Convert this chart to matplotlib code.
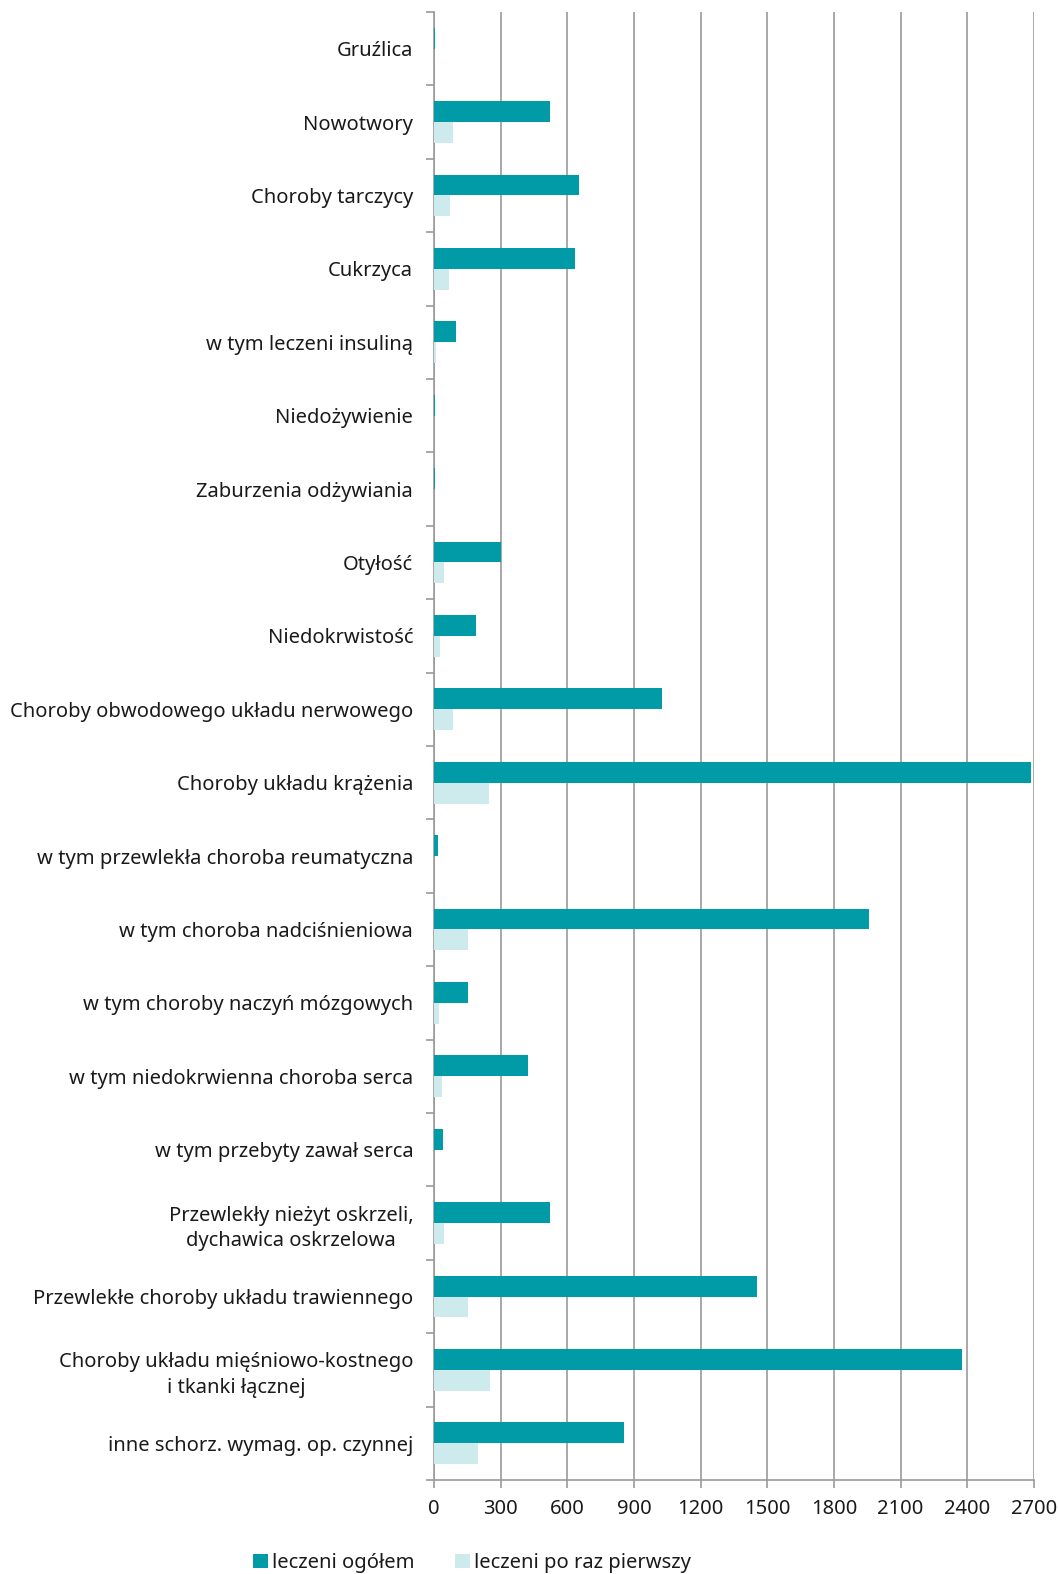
import matplotlib
matplotlib.use("Agg")
import matplotlib.pyplot as plt
import numpy as np

# dane
kategorie = [
    "Gruźlica",
    "Nowotwory",
    "Choroby tarczycy",
    "Cukrzyca",
    "w tym leczeni insuliną",
    "Niedożywienie",
    "Zaburzenia odżywiania",
    "Otyłość",
    "Niedokrwistość",
    "Choroby obwodowego układu nerwowego",
    "Choroby układu krążenia",
    "w tym przewlekła choroba reumatyczna",
    "w tym choroba nadciśnieniowa",
    "w tym choroby naczyń mózgowych",
    "w tym niedokrwienna choroba serca",
    "w tym przebyty zawał serca",
    "Przewlekły nieżyt oskrzeli,\ndychawica oskrzelowa",
    "Przewlekłe choroby układu trawiennego",
    "Choroby układu mięśniowo-kostnego\ni tkanki łącznej",
    "inne schorz. wymag. op. czynnej",
]
leczeni_ogolem = [5, 522, 652, 636, 100, 3, 3, 303, 190, 1028,
                  2688, 19, 1956, 155, 423, 40, 521, 1455, 2376, 853]
leczeni_pierwszy = [0, 86, 72, 69, 9, 0, 0, 45, 28, 85,
                    249, 0, 153, 22, 36, 0, 45, 154, 252, 199]
ticki_x = [0, 300, 600, 900, 1200, 1500, 1800, 2100, 2400, 2700]

kolor_ciemny = "#009ba6"
kolor_jasny = "#cdebec"
szary = "#9a9a9a"

plt.rcParams['font.family'] = ['Noto Sans', 'DejaVu Sans']

fig = plt.figure(figsize=(10.58, 15.74), dpi=100)
ax = fig.add_axes([434 / 1058, 1 - 1480 / 1574, 600 / 1058, 1468 / 1574])

y = np.arange(len(kategorie))
h = 0.286
ax.barh(y - h / 2, leczeni_ogolem, height=h, color=kolor_ciemny, label="leczeni ogółem", zorder=3)
ax.barh(y + h / 2, leczeni_pierwszy, height=h, color=kolor_jasny, label="leczeni po raz pierwszy", zorder=3)

ax.set_ylim(len(kategorie) - 0.5, -0.5)
ax.set_xlim(0, 2700)
ax.set_xticks(ticki_x)
ax.set_yticks(np.arange(len(kategorie) + 1) - 0.5, minor=False)
ax.set_yticklabels([])
ax.set_yticks(y, minor=True)
ax.set_yticklabels(kategorie, minor=True, fontsize=14.5, color="#1a1a1a",
                   multialignment="center", linespacing=1.35)
ax.tick_params(axis="y", which="minor", length=0, pad=15)
ax.tick_params(axis="y", which="major", length=6, color=szary, width=1.2)
ax.tick_params(axis="x", length=6, color=szary, width=1.2, labelsize=14.5, labelcolor="#1a1a1a", pad=8)

ax.grid(axis="x", color=szary, linewidth=1.2, zorder=0)
for s in ["top", "right"]:
    ax.spines[s].set_visible(False)
for s in ["left", "bottom"]:
    ax.spines[s].set_color(szary)
    ax.spines[s].set_linewidth(1.2)

fig.legend(loc="center", bbox_to_anchor=(472 / 1058, 1 - 1563 / 1574), ncol=2, frameon=False,
           fontsize=14.5, handlelength=0.75, handleheight=0.75, handletextpad=0.2,
           columnspacing=2.0, labelcolor="#1a1a1a", borderpad=0.1)

fig.savefig("out.png", dpi=100)
